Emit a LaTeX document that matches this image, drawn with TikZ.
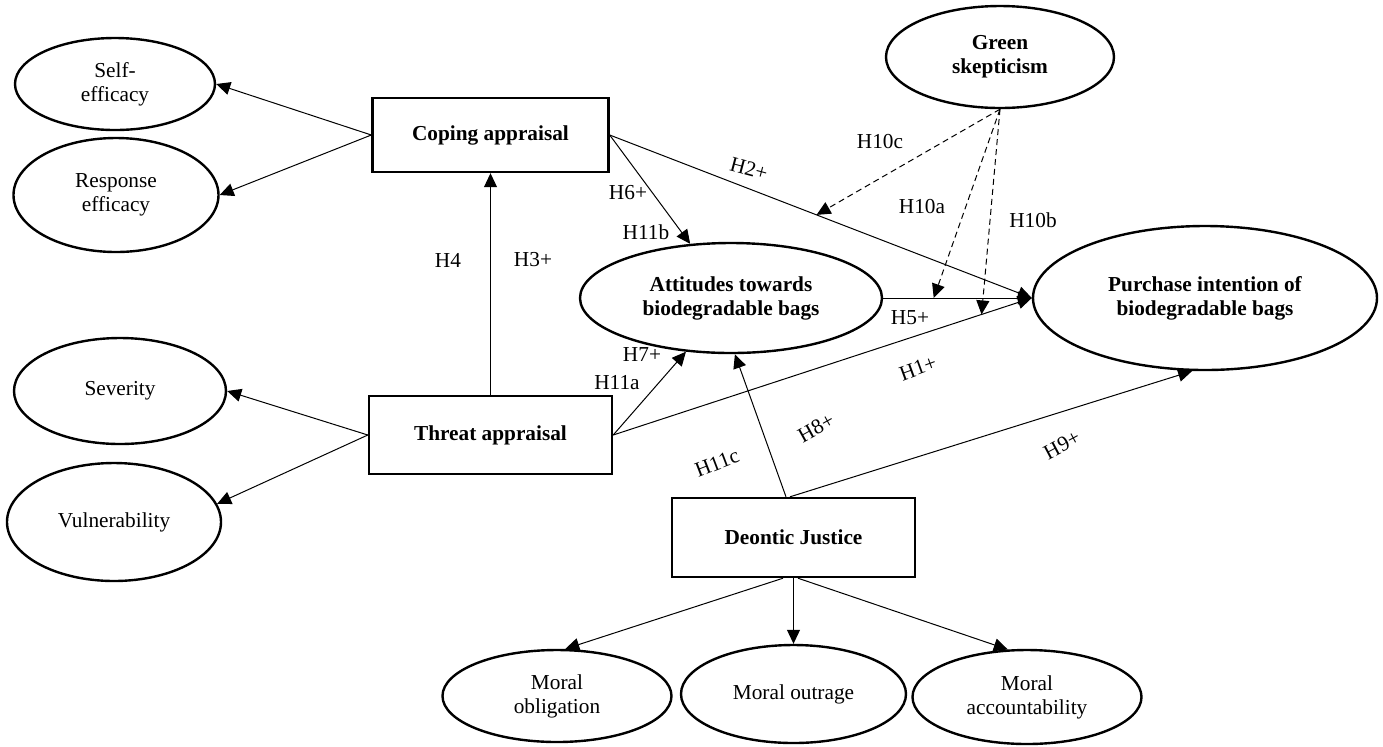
\documentclass[tikz,border=0pt]{standalone}
\usepackage{fontspec}
\setmainfont{Liberation Serif}
\usetikzlibrary{shapes.geometric,arrows.meta,calc}
\begin{document}
\begin{tikzpicture}[x=0.5pt,y=-0.5pt,
  every node/.style={font=\fontsize{10.65}{12}\selectfont},
  ell/.style={draw,ellipse,line width=1.2pt,inner sep=0pt,align=center},
  bell/.style={ell,font=\fontsize{10.65}{12}\selectfont\bfseries},
  box/.style={draw,rectangle,line width=1.2pt,inner sep=0pt,align=center,font=\fontsize{10.65}{12}\selectfont\bfseries},
  arr/.style={line width=0.5pt,-{Triangle[length=7pt,width=6.5pt]}},
  darr/.style={arr,dash pattern=on 3pt off 2pt},
  lab/.style={inner sep=0pt}]
\useasboundingbox (0,0) rectangle (1383,746);
% left ellipses
\node[ell,minimum width=100pt,minimum height=46pt] (self) at (115,84) {Self-\\efficacy};
\node[ell,minimum width=102.5pt,minimum height=57pt] (resp) at (116,195) {Response\\efficacy};
\node[ell,minimum width=106pt,minimum height=53pt] (sev) at (120,391) {Severity};
\node[ell,minimum width=107pt,minimum height=59pt] (vul) at (114,522) {Vulnerability};
% boxes
\node[box,minimum width=118pt,minimum height=37pt] (cop) at (490.5,135) {Coping appraisal};
\node[box,minimum width=121.5pt,minimum height=39pt] (thr) at (490.5,435) {Threat appraisal};
\node[box,minimum width=121.5pt,minimum height=39.5pt] (deon) at (793.5,537.5) {Deontic Justice};
% central ellipses
\node[bell,minimum width=114pt,minimum height=51pt] (green) at (1000,57) {Green\\skepticism};
\node[bell,minimum width=151pt,minimum height=55pt] (att) at (731,298) {Attitudes towards\\biodegradable bags};
\node[bell,minimum width=172pt,minimum height=72pt] (pur) at (1205,298) {Purchase intention of\\biodegradable bags};
% bottom ellipses
\node[ell,minimum width=114.5pt,minimum height=46pt] (mob) at (557,696) {Moral\\obligation};
\node[ell,minimum width=112.5pt,minimum height=49pt] (mout) at (793.5,694) {Moral outrage};
\node[ell,minimum width=114.5pt,minimum height=47pt] (macc) at (1027,697) {Moral\\accountability};
% connectors
\draw[arr] (cop.west) -- (self.east);
\draw[arr] (cop.west) -- (resp.east);
\draw[arr] (thr.west) -- (sev.east);
\draw[arr] (thr.west) -- (vul.10);
\draw[arr] (thr.north) -- (cop.south);
\draw[arr] (cop.east) -- (att.127);
\draw[arr] (cop.east) -- coordinate[pos=0.49] (p2) (pur.west);
\draw[arr] (att.east) -- coordinate[pos=0.34] (p5) (pur.west);
\draw[arr] (thr.east) -- coordinate[pos=0.88] (p1) (pur.west);
\draw[arr] (thr.east) -- (att.230);
\draw[arr] ([xshift=-3.75pt]deon.north) -- (att.274);
\draw[arr] ([xshift=-1.75pt]deon.north) -- (pur.260);
\draw[arr] ([xshift=-5.25pt]deon.south) -- (mob.80);
\draw[arr] (deon.south) -- (mout.north);
\draw[arr] ([xshift=2.25pt]deon.south) -- (macc.112);
\draw[darr] (green.south) -- (p2);
\draw[darr] (green.south) -- (p5);
\draw[darr] (green.south) -- (p1);
% labels
\node[lab] (l4) at (448,260) {H4};
\node[lab] (l3) at (533,260) {H3+};
\node[lab] (l6) at (628,193) {H6+};
\node[lab] (l11b) at (646,232) {H11b};
\node[lab,rotate=-15] (l2) at (749,169) {H2+};
\node[lab] (l10c) at (880,142) {H10c};
\node[lab] (l10a) at (922,207) {H10a};
\node[lab] (l10b) at (1033,220) {H10b};
\node[lab] (l5) at (910,318) {H5+};
\node[lab] (l7) at (642,355) {H7+};
\node[lab] (l11a) at (617,383) {H11a};
\node[lab,rotate=20] (l1) at (918,368) {H1+};
\node[lab,rotate=29] (l8) at (816,428) {H8+};
\node[lab,rotate=21] (l11c) at (717,463) {H11c};
\node[lab,rotate=28] (l9) at (1062,445) {H9+};
\end{tikzpicture}
\end{document}
